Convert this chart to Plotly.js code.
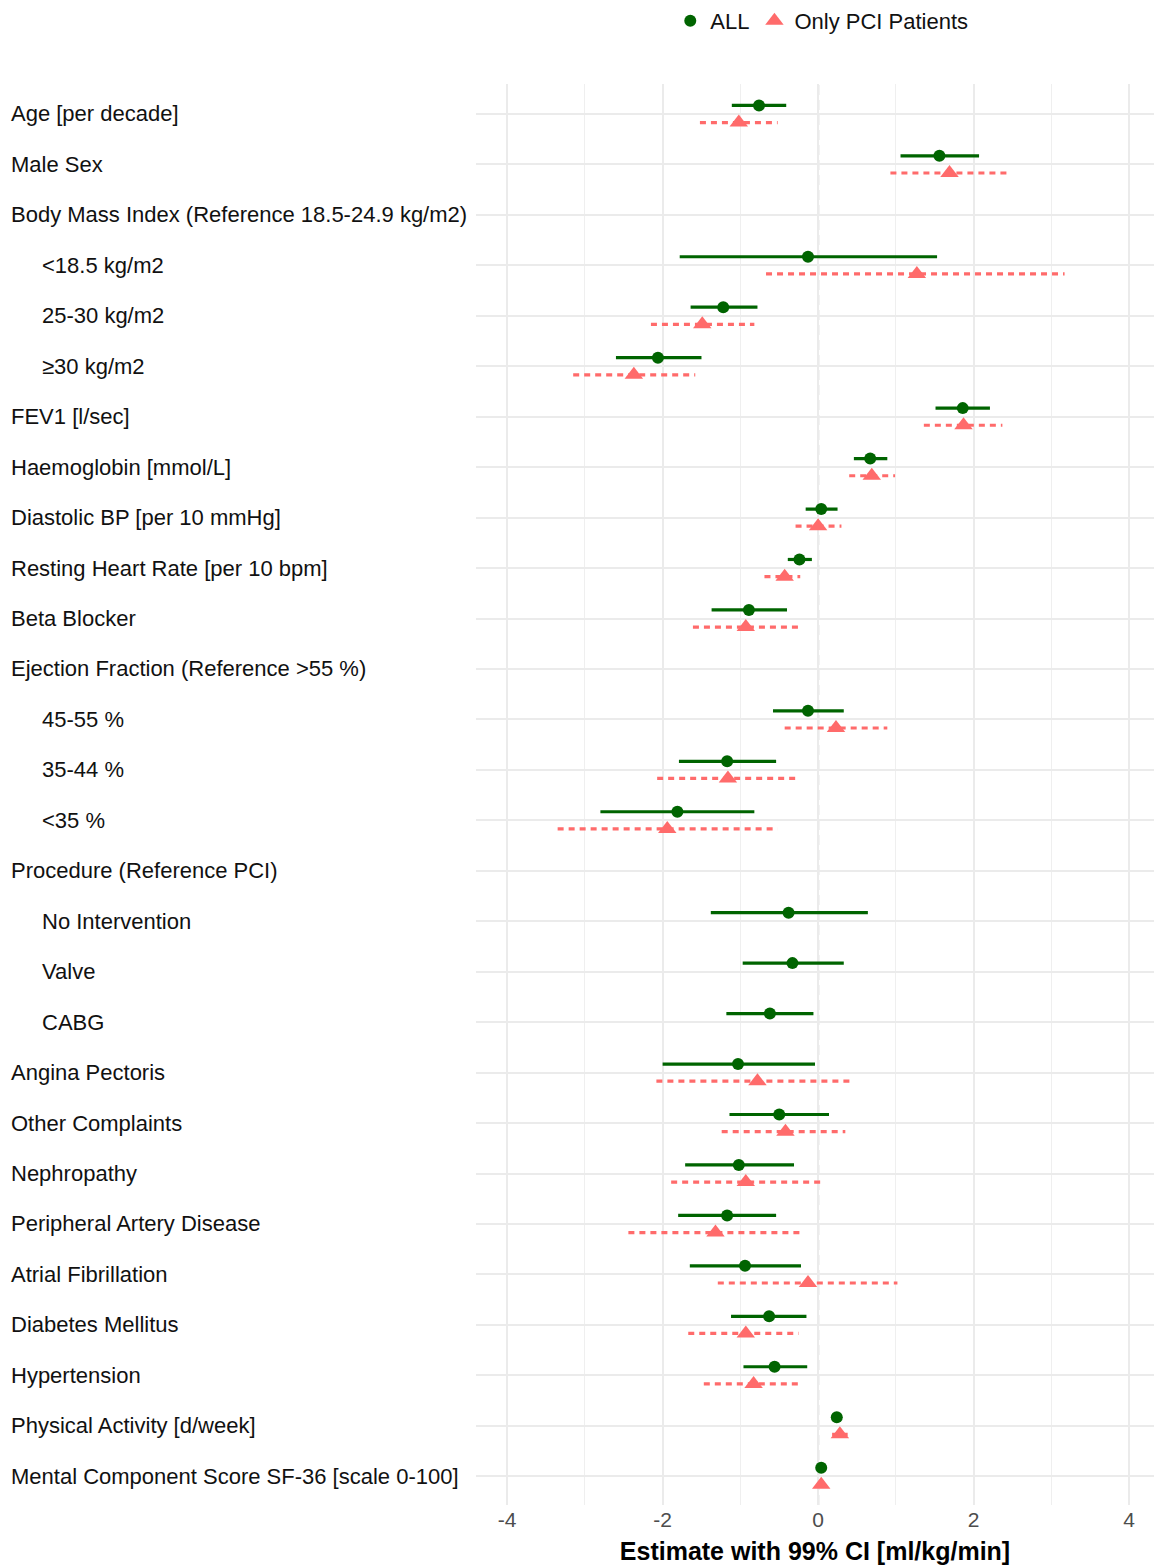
<!DOCTYPE html>
<html>
<head>
<meta charset="utf-8">
<script src="https://cdn.plot.ly/plotly-3.0.1.min.js"></script>
<style>
  html, body { margin: 0; padding: 0; background: #ffffff; }
  #chart { width: 1154px; height: 1567px; }
</style>
</head>
<body>
<div id="chart"></div>
<script>
// ---------------- data ----------------
const categories = [
  "Age [per decade]",
  "Male Sex",
  "Body Mass Index (Reference 18.5-24.9 kg/m2)",
  "&lt;18.5 kg/m2",
  "25-30 kg/m2",
  "\u226530 kg/m2",
  "FEV1 [l/sec]",
  "Haemoglobin [mmol/L]",
  "Diastolic BP [per 10 mmHg]",
  "Resting Heart Rate [per 10 bpm]",
  "Beta Blocker",
  "Ejection Fraction (Reference >55 %)",
  "45-55 %",
  "35-44 %",
  "&lt;35 %",
  "Procedure (Reference PCI)",
  "No Intervention",
  "Valve",
  "CABG",
  "Angina Pectoris",
  "Other Complaints",
  "Nephropathy",
  "Peripheral Artery Disease",
  "Atrial Fibrillation",
  "Diabetes Mellitus",
  "Hypertension",
  "Physical Activity [d/week]",
  "Mental Component Score SF-36 [scale 0-100]"
];
// hierarchy level of each category (1 = sub-level of a reference group)
const levels = [0,0,0,1,1,1,0,0,0,0,0,0,1,1,1,0,1,1,1,0,0,0,0,0,0,0,0,0];

// ALL patients
const allEst = [-0.76, 1.56, null, -0.13, -1.22, -2.06, 1.86, 0.67, 0.04, -0.24, -0.89, null, -0.13, -1.17, -1.81, null, -0.38, -0.33, -0.62, -1.03, -0.50, -1.02, -1.17, -0.94, -0.63, -0.56, 0.24, 0.04];
const allLo  = [-1.11, 1.06, null, -1.78, -1.64, -2.60, 1.51, 0.46, -0.16, -0.39, -1.37, null, -0.58, -1.79, -2.80, null, -1.38, -0.97, -1.18, -2.00, -1.14, -1.71, -1.80, -1.65, -1.12, -0.96, 0.22, 0.03];
const allHi  = [-0.41, 2.07, null, 1.53, -0.78, -1.50, 2.21, 0.89, 0.25, -0.08, -0.40, null, 0.33, -0.54, -0.82, null, 0.64, 0.33, -0.06, -0.04, 0.14, -0.31, -0.54, -0.22, -0.15, -0.14, 0.26, 0.05];

// Only PCI patients
const pciEst = [-1.02, 1.69, null, 1.27, -1.49, -2.37, 1.87, 0.69, 0.00, -0.43, -0.93, null, 0.23, -1.16, -1.94, null, null, null, null, -0.78, -0.42, -0.93, -1.32, -0.13, -0.93, -0.83, 0.28, 0.04];
const pciLo  = [-1.52, 0.93, null, -0.67, -2.15, -3.15, 1.36, 0.40, -0.29, -0.69, -1.61, null, -0.43, -2.07, -3.35, null, null, null, null, -2.08, -1.24, -1.89, -2.44, -1.29, -1.67, -1.47, 0.18, 0.03];
const pciHi  = [-0.52, 2.44, null, 3.17, -0.82, -1.58, 2.37, 0.99, 0.30, -0.23, -0.24, null, 0.89, -0.29, -0.52, null, null, null, null, 0.46, 0.35, 0.03, -0.18, 1.02, -0.25, -0.25, 0.38, 0.05];

const xTickVals = [-4, -2, 0, 2, 4];
const xTickText = ["-4", "-2", "0", "2", "4"];
const seriesNames = ["ALL", "Only PCI Patients"];
const xTitle = "Estimate with 99% CI [ml/kg/min]";

// ---------------- styling ----------------
const FONT = "Liberation Sans, Arial, Helvetica, sans-serif";
const GREEN = "#006400";
const RED = "#FF6B6B";
const DODGE = 0.17;

function segs(lo, hi, off) {
  const x = [], y = [];
  categories.forEach((c, i) => {
    if (lo[i] === null || hi[i] === null) return;
    x.push(lo[i], hi[i], null);
    y.push(i + off, i + off, null);
  });
  return {x, y};
}
function pts(est, off) {
  const x = [], y = [];
  categories.forEach((c, i) => {
    if (est[i] === null) return;
    x.push(est[i]); y.push(i + off);
  });
  return {x, y};
}

const allSeg = segs(allLo, allHi, -DODGE);
const pciSeg = segs(pciLo, pciHi, DODGE);
const allPts = pts(allEst, -DODGE);
const pciPts = pts(pciEst, DODGE);

const traces = [
  {type: "scatter", mode: "lines", x: allSeg.x, y: allSeg.y, showlegend: false, hoverinfo: "skip",
   line: {color: GREEN, width: 3.2}, connectgaps: false},
  {type: "scatter", mode: "lines", x: pciSeg.x, y: pciSeg.y, showlegend: false, hoverinfo: "skip",
   line: {color: RED, width: 3.2, dash: "6px,5px"}, connectgaps: false},
  {type: "scatter", mode: "markers", name: seriesNames[0], x: allPts.x, y: allPts.y,
   marker: {symbol: "circle", size: 12, color: GREEN}},
  {type: "scatter", mode: "markers", name: seriesNames[1], x: pciPts.x, y: pciPts.y,
   marker: {symbol: "triangle-up", size: 16, color: RED}}
];

const L = 476, R = 0, T = 83, B = 62, W = 1154;
const plotW = W - L - R;

const annotations = categories.map((c, i) => ({
  xref: "paper", yref: "y",
  x: ((levels[i] ? 40 : 9) - L) / plotW, y: i,
  xanchor: "left", yanchor: "middle",
  text: c, showarrow: false,
  font: {family: FONT, size: 22, color: "#111111"}
}));

const layout = {
  width: 1154, height: 1567,
  margin: {l: L, r: R, t: T, b: B},
  paper_bgcolor: "#ffffff", plot_bgcolor: "#ffffff",
  font: {family: FONT, size: 20, color: "#111111"},
  showlegend: true,
  legend: {orientation: "h", x: 0.510, xanchor: "center", y: 1.0443, yanchor: "middle",
           font: {family: FONT, size: 22, color: "#111111"}, bgcolor: "rgba(0,0,0,0)"},
  xaxis: {
    range: [-4.40, 4.32], tickmode: "array", tickvals: xTickVals, ticktext: xTickText,
    showgrid: true, gridcolor: "#EBEBEB", gridwidth: 2,
    minor: {tickmode: "array", tickvals: [-3, -1, 1, 3], showgrid: true, gridcolor: "#EFEFEF", gridwidth: 1},
    zeroline: false, showline: false, ticks: "",
    tickfont: {family: FONT, size: 21, color: "#4D4D4D"},
    title: {text: xTitle, font: {family: FONT, size: 25, color: "#000000", weight: "bold"}, standoff: 12},
    automargin: false, fixedrange: true
  },
  yaxis: {
    range: [27.57, -0.594], tickmode: "array", tickvals: categories.map((c, i) => i),
    showticklabels: false, showgrid: true, gridcolor: "#EBEBEB", gridwidth: 2,
    zeroline: false, showline: false, ticks: "", automargin: false, fixedrange: true
  },
  shapes: [{type: "line", xref: "x", yref: "paper", x0: 0, x1: 0, y0: 0, y1: 1,
            line: {color: "#8A8A8A", width: 2, dash: "10px,5px"}, layer: "below"}],
  annotations: annotations
};

Plotly.newPlot("chart", traces, layout, {displayModeBar: false, staticPlot: true});
</script>
</body>
</html>
